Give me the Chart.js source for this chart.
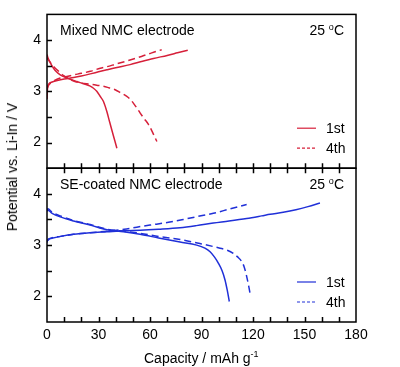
<!DOCTYPE html>
<html>
<head>
<meta charset="utf-8">
<script src="https://cdn.jsdelivr.net/npm/chart.js@4.4.1/dist/chart.umd.min.js"></script>
<style>
body { margin: 0; background: #fff; }
#wrap { position: relative; width: 400px; height: 367px; font-family: "Liberation Sans", Arial, sans-serif; color: #000; }
.lbl { position: absolute; font-size: 14px; line-height: 14px; white-space: nowrap; }
.deg { font-size: 9px; position: relative; top: -5px; }
.sup { font-size: 9px; position: relative; top: -6px; }
#ytitle { left: 12px; top: 167px; transform: translate(-50%, -50%) rotate(-90deg); }
</style>
</head>
<body>
<div id="wrap">
  <canvas id="chart" width="400" height="367"></canvas>
  <div class="lbl" style="left:60px;top:23px">Mixed NMC electrode</div>
  <div class="lbl" style="right:56px;top:23px">25 <span class="deg">o</span>C</div>
  <div class="lbl" style="left:60px;top:177px">SE-coated NMC electrode</div>
  <div class="lbl" style="right:56px;top:177px">25 <span class="deg">o</span>C</div>
  <div class="lbl" id="ytitle">Potential vs. Li-In / V</div>
  <div class="lbl" style="left:144px;top:351px">Capacity / mAh g<span class="sup">-1</span></div>
</div>
<script>
const red = '#d6203a'
const blue = '#2030d8'

// axis ranges and tick values
const capMin = 0, capMax = 180
const vMin = 1.5, vMax = 4.5
const capTicks = [0, 10, 20, 30, 40, 50, 60, 70, 80, 90, 100, 110, 120, 130, 140, 150, 160, 170, 180]
const voltTicks = [1.5, 2, 2.5, 3, 3.5, 4, 4.5]

// Mixed NMC electrode (top panel)
const mixed1stChargeCap = [0, 0.3, 1, 3, 6, 10, 15.5, 20, 25.2, 30, 34.9, 40, 48.4, 55, 62, 70, 76, 82]
const mixed1stChargeV   = [2.85, 3.05, 3.14, 3.18, 3.21, 3.24, 3.27, 3.30, 3.34, 3.38, 3.42, 3.46, 3.52, 3.58, 3.64, 3.70, 3.75, 3.80]
const mixed1stDischCap  = [0, 0.5, 2, 3.8, 5.5, 7.7, 11.6, 17.4, 21, 25.2, 27.1, 29, 31, 32.9, 34.9, 36.5, 37.8, 39.3, 40.7]
const mixed1stDischV    = [3.72, 3.66, 3.55, 3.45, 3.38, 3.32, 3.26, 3.19, 3.15, 3.10, 3.06, 3.0, 2.90, 2.80, 2.60, 2.40, 2.24, 2.06, 1.89]
const mixed4thChargeCap = [0, 1, 3, 7.7, 11.6, 15.5, 20, 25.2, 31, 34.9, 40, 48.4, 55, 61, 66.8]
const mixed4thChargeV   = [3.05, 3.12, 3.18, 3.26, 3.29, 3.32, 3.35, 3.39, 3.45, 3.48, 3.53, 3.61, 3.68, 3.75, 3.81]
const mixed4thDischCap  = [0, 2, 4, 5.8, 10, 15.5, 20, 25.2, 29, 32.9, 36, 39.7, 43, 46.5, 48, 50.3, 52, 54.2, 56.5, 59, 61.5, 64]
const mixed4thDischV    = [3.65, 3.56, 3.48, 3.42, 3.30, 3.20, 3.16, 3.14, 3.12, 3.10, 3.07, 3.03, 2.97, 2.90, 2.86, 2.77, 2.69, 2.58, 2.47, 2.36, 2.20, 2.02]

// SE-coated NMC electrode (bottom panel)
const se1stChargeCap = [0, 0.3, 2, 8, 15.5, 25, 34.9, 45, 54.2, 65, 77.5, 87, 96.9, 106, 116.3, 125, 130, 137.6, 145, 152, 159]
const se1stChargeV   = [3.05, 3.10, 3.13, 3.17, 3.21, 3.24, 3.26, 3.28, 3.29, 3.31, 3.34, 3.38, 3.43, 3.47, 3.52, 3.57, 3.60, 3.64, 3.69, 3.75, 3.82]
const se1stDischCap  = [0, 0.5, 3, 7.7, 15.5, 25.2, 34.9, 44.6, 54.2, 65, 77.5, 87.2, 92, 95, 97.5, 99.8, 102, 103.7, 105, 106.2]
const se1stDischV    = [3.66, 3.68, 3.62, 3.55, 3.47, 3.39, 3.30, 3.26, 3.21, 3.14, 3.06, 3.0, 2.94, 2.87, 2.77, 2.65, 2.50, 2.32, 2.12, 1.90]
const se4thChargeCap = [0, 2, 8, 15.5, 25, 34.9, 45, 52.3, 60, 70, 79.4, 88, 96.9, 106, 116.3]
const se4thChargeV   = [3.08, 3.13, 3.17, 3.21, 3.24, 3.27, 3.31, 3.35, 3.39, 3.44, 3.50, 3.56, 3.62, 3.70, 3.79]
const se4thDischCap  = [0, 0.5, 3, 7.7, 15.5, 25.2, 34.9, 44.6, 54.2, 65, 77.5, 89.1, 100.8, 105, 108.5, 111, 113.4, 115, 116.3, 117.5, 118.6]
const se4thDischV    = [3.68, 3.71, 3.64, 3.57, 3.48, 3.40, 3.31, 3.27, 3.23, 3.17, 3.11, 3.03, 2.94, 2.90, 2.84, 2.77, 2.68, 2.56, 2.39, 2.20, 2.00]

const cycleLabels = ['1st', '4th']
const dash4th = [7, 4]

function pts(xs, ys) {
    return xs.map((x, i) => ({ x, y: ys[i] }))
}

function curve(label, xs, ys, color, axis, dashed) {
    return {
        label,
        data: pts(xs, ys),
        yAxisID: axis,
        borderColor: color,
        backgroundColor: color,
        borderWidth: 1.5,
        borderDash: dashed ? dash4th : [],
        pointRadius: 0,
        showLine: true,
        cubicInterpolationMode: 'monotone'
    }
}

const font = { family: '"Liberation Sans", Arial, sans-serif', size: 14 }

// frame, inward ticks, panel legends
const framePlugin = {
    id: 'frame',
    afterDatasetsDraw(chart) {
        const { ctx, chartArea: a, scales } = chart
        const x = scales.x
        const panels = [
            { y: scales.yTop, topTicks: false },
            { y: scales.yBottom, topTicks: true }
        ]
        ctx.save()
        panels.forEach(p => {
            const y = p.y
            ctx.strokeStyle = '#000'
            ctx.lineWidth = 1.5
            ctx.strokeRect(a.left, y.top, a.right - a.left, y.bottom - y.top)
            ctx.beginPath()
            y.ticks.forEach(t => {
                if (t.value <= y.min || t.value >= y.max) return
                const py = Math.round(y.getPixelForValue(t.value)) + 0.5
                ctx.moveTo(a.left, py)
                ctx.lineTo(a.left + 5, py)
            })
            x.ticks.forEach(t => {
                if (t.value <= x.min || t.value >= x.max) return
                const px = Math.round(x.getPixelForValue(t.value)) + 0.5
                ctx.moveTo(px, y.bottom)
                ctx.lineTo(px, y.bottom - 5)
                if (p.topTicks) {
                    ctx.moveTo(px, y.top)
                    ctx.lineTo(px, y.top + 5)
                }
            })
            ctx.stroke()

            // legend
            const sets = chart.data.datasets.filter(d => d.yAxisID === y.id)
            cycleLabels.forEach((lab, i) => {
                const ds = sets.find(d => d.label === lab)
                const ly = y.bottom - 40 + i * 20
                ctx.beginPath()
                ctx.strokeStyle = ds.borderColor
                ctx.lineWidth = 1.2
                ctx.setLineDash(ds.borderDash.length ? [3, 2] : [])
                ctx.moveTo(a.right - 59, ly)
                ctx.lineTo(a.right - 40, ly)
                ctx.stroke()
                ctx.setLineDash([])
                ctx.fillStyle = '#000'
                ctx.font = '14px "Liberation Sans", Arial, sans-serif'
                ctx.textBaseline = 'middle'
                ctx.textAlign = 'left'
                ctx.fillText(lab, a.right - 30, ly + 1)
            })
        })
        ctx.restore()
    }
}

function yScale() {
    return {
        type: 'linear',
        position: 'left',
        stack: 'panels',
        stackWeight: 1,
        min: vMin,
        max: vMax,
        grid: { display: false, drawTicks: false },
        border: { display: false },
        ticks: {
            padding: 6,
            color: '#000',
            font,
            autoSkip: false,
            callback: v => Number.isInteger(v) ? v : ''
        },
        afterBuildTicks(s) { s.ticks = voltTicks.map(v => ({ value: v })) },
        afterFit(s) { s.width = 47 }
    }
}

new Chart(document.getElementById('chart'), {
    type: 'scatter',
    data: {
        datasets: [
            curve('1st', mixed1stChargeCap, mixed1stChargeV, red, 'yTop', false),
            curve('1st', mixed1stDischCap, mixed1stDischV, red, 'yTop', false),
            curve('4th', mixed4thChargeCap, mixed4thChargeV, red, 'yTop', true),
            curve('4th', mixed4thDischCap, mixed4thDischV, red, 'yTop', true),
            curve('1st', se1stChargeCap, se1stChargeV, blue, 'yBottom', false),
            curve('1st', se1stDischCap, se1stDischV, blue, 'yBottom', false),
            curve('4th', se4thChargeCap, se4thChargeV, blue, 'yBottom', true),
            curve('4th', se4thDischCap, se4thDischV, blue, 'yBottom', true)
        ]
    },
    options: {
        responsive: false,
        devicePixelRatio: 1,
        animation: false,
        layout: { padding: { top: 12, right: 44, left: 0, bottom: 0 } },
        plugins: { legend: { display: false }, tooltip: { enabled: false } },
        scales: {
            // the first axis in a stack is placed at the bottom
            yBottom: yScale(),
            yTop: yScale(),
            x: {
                type: 'linear',
                min: capMin,
                max: capMax,
                grid: { display: false, drawTicks: false },
                border: { display: false },
                ticks: {
                    padding: 5,
                    maxRotation: 0,
                    autoSkip: false,
                    color: '#000',
                    font,
                    callback: v => v % 30 === 0 ? v : ''
                },
                afterBuildTicks(s) { s.ticks = capTicks.map(v => ({ value: v })) },
                afterFit(s) { s.height = 45 }
            }
        }
    },
    plugins: [framePlugin]
})
</script>
</body>
</html>
